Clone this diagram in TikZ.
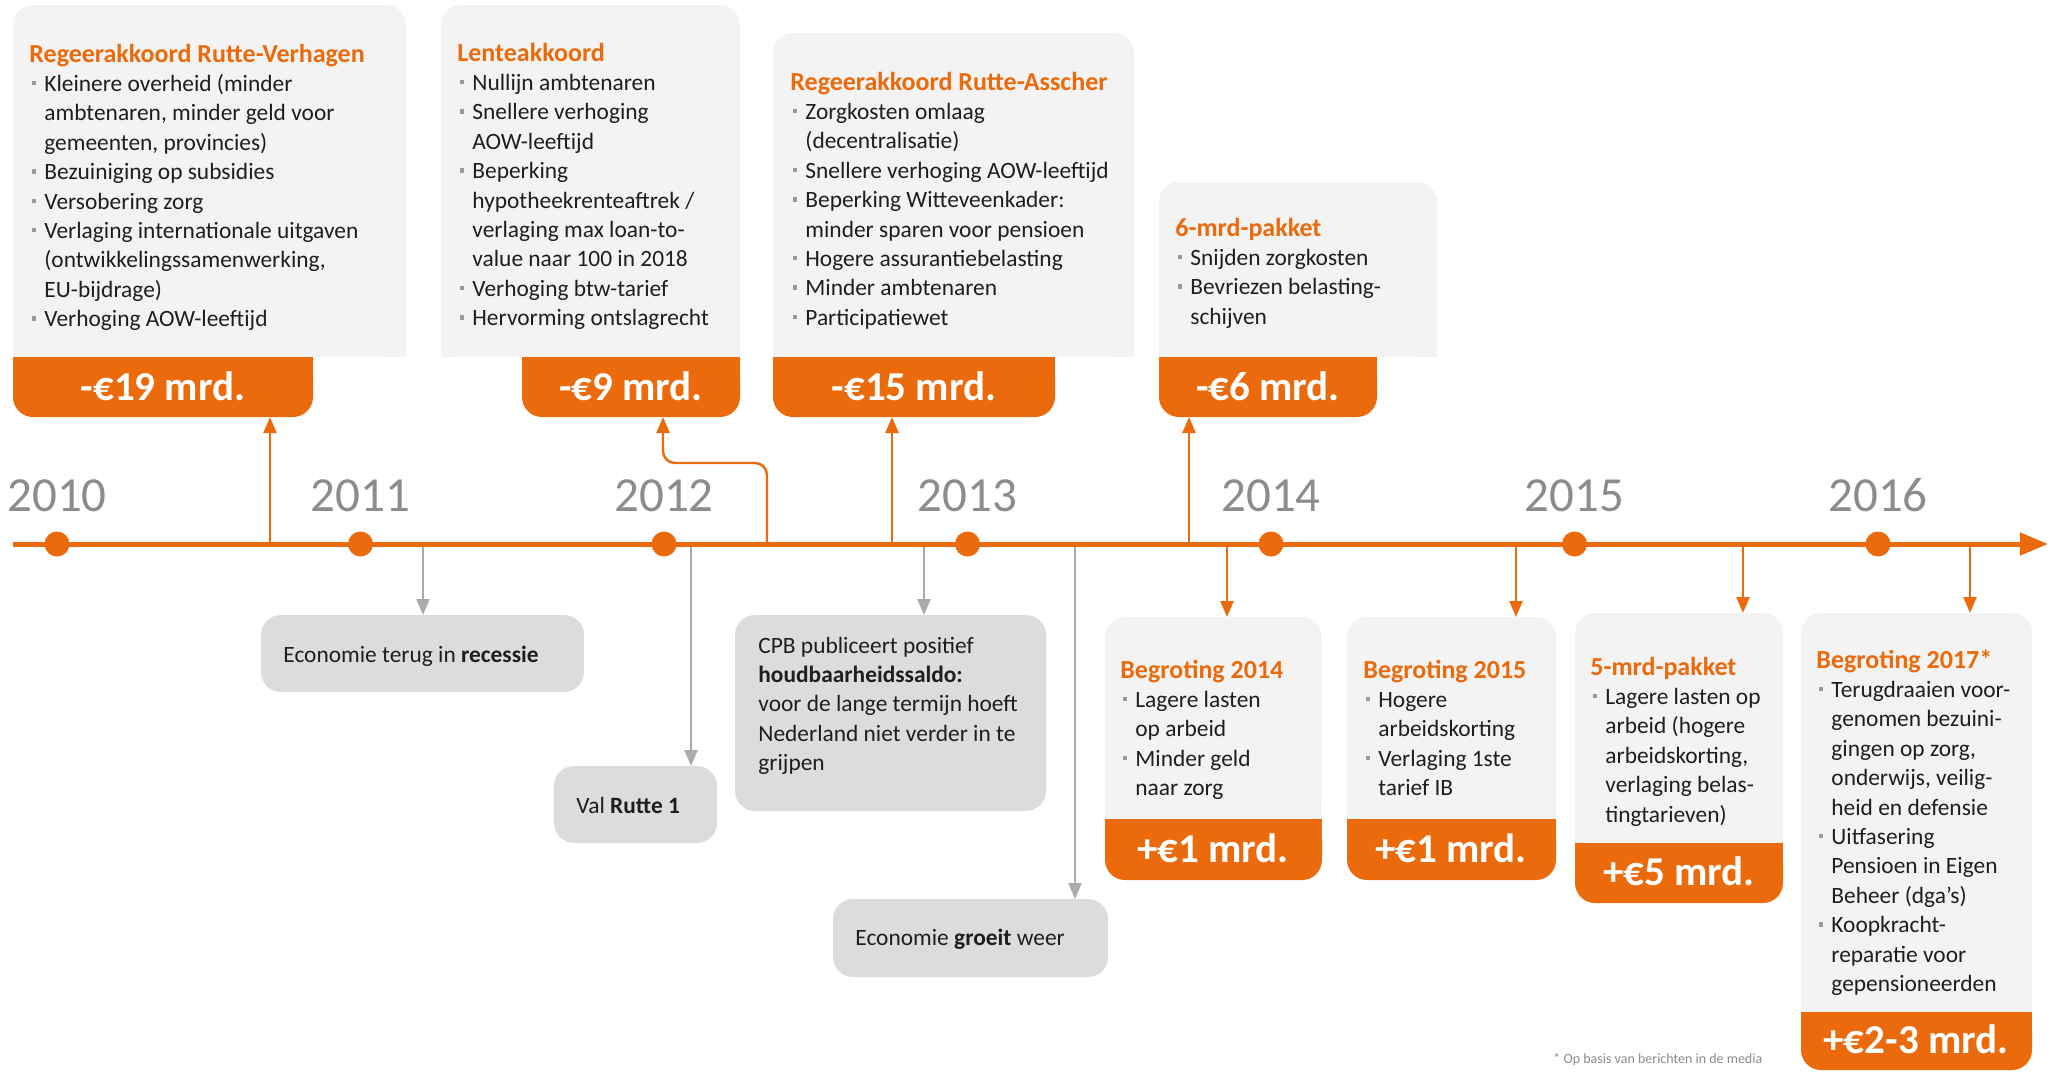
\documentclass[tikz,border=0pt]{standalone}
\usepackage{fontspec}
\setmainfont{Carlito}
\usetikzlibrary{arrows.meta}
\definecolor{ingorange}{HTML}{EA6A0C}
\definecolor{topgrey}{HTML}{F3F3F3}
\definecolor{evgrey}{HTML}{DCDCDD}
\definecolor{arrgrey}{HTML}{ABABAB}
\definecolor{yeargrey}{HTML}{8C8C8C}
\definecolor{bulgrey}{HTML}{9A9A9A}
\definecolor{txtcol}{HTML}{1E1E1E}
\definecolor{notegrey}{HTML}{8A8A8A}
\newcommand\bl{\makebox[7.5pt][l]{\hspace{1.2pt}\textcolor{bulgrey}{\rule[3pt]{2.2pt}{2.2pt}}}}
\newcommand\ind{\hspace*{7.5pt}}
\newcommand\ttl[1]{{\fontsize{13}{14.7}\selectfont\bfseries\color{ingorange}#1}}
\newcommand\gbox[4]{%
  \fill[topgrey, rounded corners=10pt] (#1,#2) rectangle (#3,#4);
  \fill[topgrey] (#1,#2) rectangle (#3,#2+25);}
\newcommand\obar[4]{%
  \fill[ingorange, rounded corners=10pt] (#1,#2) rectangle (#3,#4);
  \fill[ingorange] (#1,#4-25) rectangle (#3,#4);}
\tikzset{
  body/.style={anchor=base west, align=left, inner sep=0pt, text=txtcol, font=\fontsize{11.7}{14.7}\selectfont},
  amount/.style={anchor=base, inner sep=0pt, text=white, font=\fontsize{20.5}{24}\selectfont\bfseries},
  yearlbl/.style={anchor=base, inner sep=0pt, text=yeargrey, font=\fontsize{24.5}{28}\selectfont},
  oarrow/.style={draw=ingorange, line width=1.2pt, -{Triangle[width=6.5pt,length=8pt]}},
  garrow/.style={draw=arrgrey, line width=1.2pt, -{Triangle[width=6.5pt,length=8pt]}},
  tdot/.style={circle, fill=ingorange, inner sep=0pt, minimum size=12.5pt},
  evbox/.style={fill=evgrey, rounded corners=10pt},
}
\begin{document}
\begin{tikzpicture}[x=0.5pt,y=0.5pt]
\useasboundingbox (0,0) rectangle (2056,-1072);

% ---------- top boxes (text nodes placed at the baseline of their last line) ----------
\gbox{13}{-357}{406}{-5}
\obar{13}{-417}{313}{-357}
\node[body] (t1) at (29,-326.6) {\ttl{Regeerakkoord Rutte-Verhagen}\\
\bl Kleinere overheid (minder\\
\ind ambtenaren, minder geld voor\\
\ind gemeenten, provincies)\\
\bl Bezuiniging op subsidies\\
\bl Versobering zorg\\
\bl Verlaging internationale uitgaven\\
\ind (ontwikkelingssamenwerking,\\
\ind EU-bijdrage)\\
\bl Verhoging AOW-leeftijd};
\node[amount] (m1) at (163,-400) {-€19 mrd.};

\gbox{441}{-357}{740}{-5}
\obar{522}{-417}{740}{-357}
\node[body] (t2) at (457,-325.6) {\ttl{Lenteakkoord}\\
\bl Nullijn ambtenaren\\
\bl Snellere verhoging\\
\ind AOW-leeftijd\\
\bl Beperking\\
\ind hypotheekrenteaftrek /\\
\ind verlaging max loan-to-\\
\ind value naar 100 in 2018\\
\bl Verhoging btw-tarief\\
\bl Hervorming ontslagrecht};
\node[amount] (m2) at (631,-400) {-€9 mrd.};

\gbox{773}{-357}{1134}{-33}
\obar{773}{-417}{1055}{-357}
\node[body] (t3) at (790,-325.2) {\ttl{Regeerakkoord Rutte-Asscher}\\
\bl Zorgkosten omlaag\\
\ind (decentralisatie)\\
\bl Snellere verhoging AOW-leeftijd\\
\bl Beperking Witteveenkader:\\
\ind minder sparen voor pensioen\\
\bl Hogere assurantiebelasting\\
\bl Minder ambtenaren\\
\bl Participatiewet};
\node[amount] (m3) at (914,-400) {-€15 mrd.};

\gbox{1159}{-357}{1437}{-182}
\obar{1159}{-417}{1377}{-357}
\node[body] (t4) at (1175,-324.2) {\ttl{6-mrd-pakket}\\
\bl Snijden zorgkosten\\
\bl Bevriezen belasting-\\
\ind schijven};
\node[amount] (m4) at (1268,-400) {-€6 mrd.};

% ---------- bottom boxes ----------
\gbox{1105}{-819}{1322}{-617}
\obar{1105}{-880}{1322}{-819}
\node[body] (t5) at (1120,-795.6) {\ttl{Begroting 2014}\\
\bl Lagere lasten\\
\ind op arbeid\\
\bl Minder geld\\
\ind naar zorg};
\node[amount] (m5) at (1213,-862) {+€1 mrd.};

\gbox{1347}{-819}{1556}{-617}
\obar{1347}{-880}{1556}{-819}
\node[body] (t6) at (1363,-795.6) {\ttl{Begroting 2015}\\
\bl Hogere\\
\ind arbeidskorting\\
\bl Verlaging 1ste\\
\ind tarief IB};
\node[amount] (m6) at (1451,-862) {+€1 mrd.};

\gbox{1575}{-843}{1783}{-613}
\obar{1575}{-903}{1783}{-843}
\node[body] (t7) at (1590,-822) {\ttl{5-mrd-pakket}\\
\bl Lagere lasten op\\
\ind arbeid (hogere\\
\ind arbeidskorting,\\
\ind verlaging belas-\\
\ind tingtarieven)};
\node[amount] (m7) at (1679,-885) {+€5 mrd.};

\gbox{1801}{-1012}{2032}{-613}
\obar{1801}{-1070}{2032}{-1012}
\node[body] (t8) at (1816,-991.4) {\ttl{Begroting 2017*}\\
\bl Terugdraaien voor-\\
\ind genomen bezuini-\\
\ind gingen op zorg,\\
\ind onderwijs, veilig-\\
\ind heid en defensie\\
\bl Uitfasering\\
\ind Pensioen in Eigen\\
\ind Beheer (dga’s)\\
\bl Koopkracht-\\
\ind reparatie voor\\
\ind gepensioneerden};
\node[amount] (m8) at (1916,-1053) {+€2-3 mrd.};

% ---------- event boxes ----------
\fill[evbox] (261,-692) rectangle (584,-615);
\node[body] (e1) at (283,-662) {Economie terug in \textbf{recessie}};
\fill[evbox] (554,-843) rectangle (717,-766);
\node[body] (e2) at (576,-813) {Val \textbf{Rutte 1}};
\fill[evbox] (735,-811) rectangle (1046,-615);
\node[body] (e3) at (758,-770.6) {CPB publiceert positief\\
\textbf{houdbaarheidssaldo:}\\
voor de lange termijn hoeft\\
Nederland niet verder in te\\
grijpen};
\fill[evbox] (833,-977) rectangle (1108,-899);
\node[body] (e4) at (855,-945) {Economie \textbf{groeit} weer};

% ---------- connectors ----------
\coordinate (s1) at (270,-544);  \coordinate (f1) at (270,-417);
\coordinate (s2) at (767,-544);  \coordinate (k2) at (767,-463); \coordinate (f2) at (663,-417);
\coordinate (s3) at (892,-544);  \coordinate (f3) at (892,-417);
\coordinate (s4) at (1189,-544); \coordinate (f4) at (1189,-417);
\draw[oarrow] (s1) -- (f1);
\draw[oarrow, rounded corners=6pt] (s2) -- (k2) -| (f2);
\draw[oarrow] (s3) -- (f3);
\draw[oarrow] (s4) -- (f4);

\coordinate (g1) at (423,-544);  \coordinate (h1) at (423,-615);
\coordinate (g2) at (691,-544);  \coordinate (h2) at (691,-766);
\coordinate (g3) at (924,-544);  \coordinate (h3) at (924,-615);
\coordinate (g4) at (1075,-544); \coordinate (h4) at (1075,-899);
\draw[garrow] (g1) -- (h1);
\draw[garrow] (g2) -- (h2);
\draw[garrow] (g3) -- (h3);
\draw[garrow] (g4) -- (h4);

\coordinate (o1) at (1227,-544); \coordinate (p1) at (1227,-617);
\coordinate (o2) at (1516,-544); \coordinate (p2) at (1516,-617);
\coordinate (o3) at (1743,-544); \coordinate (p3) at (1743,-613);
\coordinate (o4) at (1970,-544); \coordinate (p4) at (1970,-613);
\draw[oarrow] (o1) -- (p1);
\draw[oarrow] (o2) -- (p2);
\draw[oarrow] (o3) -- (p3);
\draw[oarrow] (o4) -- (p4);

% ---------- timeline ----------
\coordinate (ts) at (13,-544);
\coordinate (te) at (2048,-544);
\draw[ingorange, line width=2.5pt, -{Triangle[length=14pt,width=11pt]}] (ts) -- (te);
\foreach \yr/\xx in {2010/57,2011/360.5,2012/664,2013/967.5,2014/1271,2015/1574.5,2016/1878}{
  \node[tdot] (d\yr) at (\xx,-544) {};
  \node[yearlbl] (y\yr) at (\xx,-511) {\yr};
}

% ---------- footnote ----------
\node[anchor=base west, inner sep=0pt, text=notegrey, font=\fontsize{7}{8}\selectfont] (note) at (1553,-1063) {* Op basis van berichten in de media};
\end{tikzpicture}
\end{document}
